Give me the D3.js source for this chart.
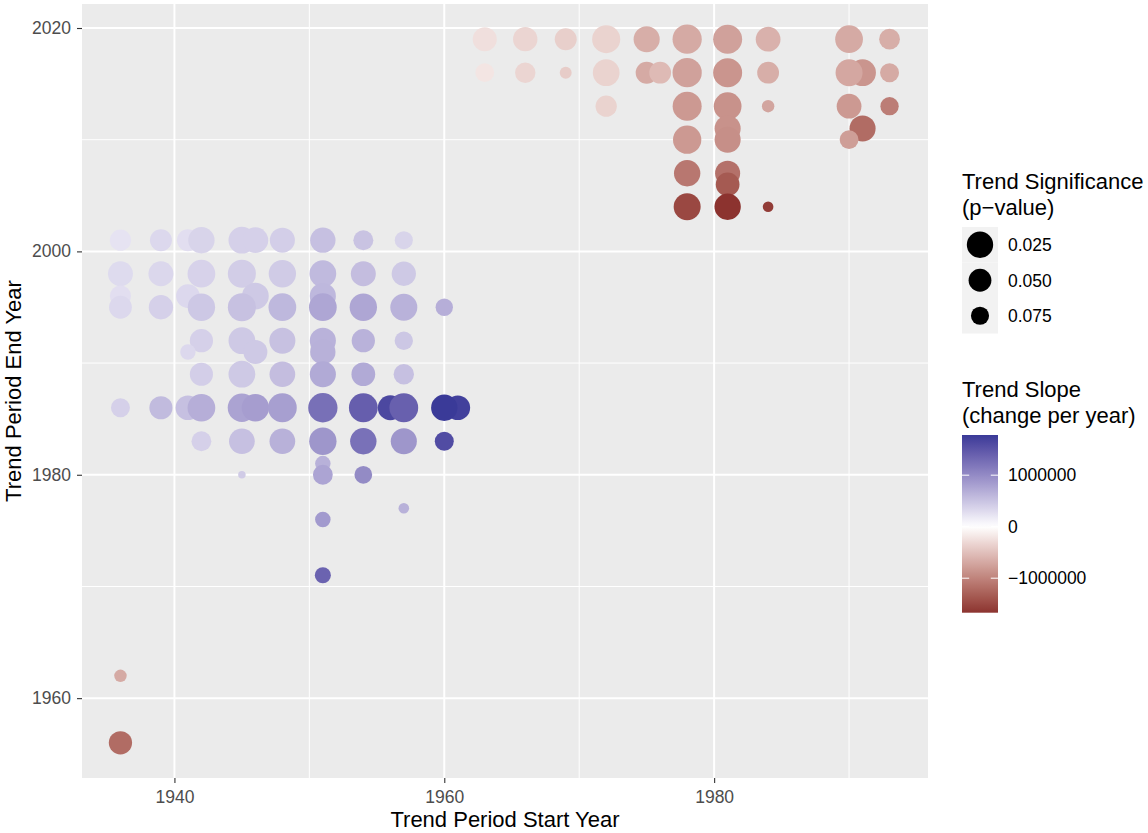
<!DOCTYPE html>
<html>
<head>
<meta charset="utf-8">
<script src="https://cdn.jsdelivr.net/npm/d3@7"></script>
<style>
  body { margin: 0; background: #ffffff; }
  svg { display: block; }
  text { font-family: "Liberation Sans", Arial, Helvetica, sans-serif; }
</style>
</head>
<body>
<svg id="chart" width="1148" height="833"></svg>
<script>
// Trend periods: start year, end year, fitted slope (change per year) and p-value.
// Ordered by end year (descending), then start year, which is also the drawing order.
const startYear = [
  1963, 1966, 1969, 1972, 1975, 1978, 1981, 1984, 1990, 1993,
  1963, 1966, 1969, 1972, 1975, 1976, 1978, 1981, 1984, 1991, 1990, 1993,
  1972, 1978, 1981, 1984, 1990, 1993,
  1981, 1991,
  1978, 1981, 1990,
  1978, 1981,
  1981,
  1978, 1981, 1984,
  1936, 1939, 1941, 1942, 1945, 1946, 1948, 1951, 1954, 1957,
  1936, 1939, 1942, 1945, 1948, 1951, 1954, 1957,
  1936, 1941, 1946, 1951,
  1936, 1939, 1942, 1945, 1948, 1951, 1954, 1957, 1960,
  1942, 1945, 1948, 1951, 1954, 1957,
  1941, 1946, 1951,
  1942, 1945, 1948, 1951, 1954, 1957,
  1936, 1939, 1941, 1942, 1945, 1946, 1948, 1951, 1954, 1956, 1957, 1961, 1960,
  1942, 1945, 1948, 1951, 1954, 1957, 1960,
  1951,
  1945, 1951, 1954,
  1957,
  1951,
  1951,
  1936,
  1936
];
const endYear = [
  2019, 2019, 2019, 2019, 2019, 2019, 2019, 2019, 2019, 2019,
  2016, 2016, 2016, 2016, 2016, 2016, 2016, 2016, 2016, 2016, 2016, 2016,
  2013, 2013, 2013, 2013, 2013, 2013,
  2011, 2011,
  2010, 2010, 2010,
  2007, 2007,
  2006,
  2004, 2004, 2004,
  2001, 2001, 2001, 2001, 2001, 2001, 2001, 2001, 2001, 2001,
  1998, 1998, 1998, 1998, 1998, 1998, 1998, 1998,
  1996, 1996, 1996, 1996,
  1995, 1995, 1995, 1995, 1995, 1995, 1995, 1995, 1995,
  1992, 1992, 1992, 1992, 1992, 1992,
  1991, 1991, 1991,
  1989, 1989, 1989, 1989, 1989, 1989,
  1986, 1986, 1986, 1986, 1986, 1986, 1986, 1986, 1986, 1986, 1986, 1986, 1986,
  1983, 1983, 1983, 1983, 1983, 1983, 1983,
  1981,
  1980, 1980, 1980,
  1977,
  1976,
  1971,
  1962,
  1956
];
const slope = [
  -250000, -330000, -380000, -350000, -650000, -680000, -750000, -620000, -680000, -650000,
  -200000, -330000, -400000, -350000, -680000, -550000, -750000, -850000, -650000, -850000, -700000, -680000,
  -350000, -820000, -880000, -720000, -820000, -1050000,
  -880000, -1200000,
  -820000, -900000, -780000,
  -1100000, -1150000,
  -1350000,
  -1500000, -1670000, -1600000,
  230000, 320000, 270000, 360000, 390000, 390000, 410000, 530000, 500000, 360000,
  300000, 330000, 370000, 420000, 430000, 580000, 550000, 450000,
  270000, 320000, 450000, 600000,
  320000, 390000, 460000, 520000, 600000, 750000, 750000, 650000, 680000,
  390000, 450000, 520000, 650000, 650000, 470000,
  320000, 450000, 660000,
  410000, 450000, 550000, 720000, 720000, 530000,
  390000, 570000, 530000, 680000, 780000, 830000, 820000, 1250000, 1420000, 1640000, 1400000, 1720000, 1780000,
  390000, 530000, 660000, 900000, 1240000, 900000, 1600000,
  660000,
  430000, 770000, 1000000,
  660000,
  860000,
  1370000,
  -680000,
  -1200000
];
const pValue = [
  0.042, 0.040, 0.055, 0.011, 0.027, 0.001, 0.003, 0.037, 0.014, 0.062,
  0.072, 0.064, 0.094, 0.022, 0.055, 0.056, 0.001, 0.003, 0.056, 0.022, 0.020, 0.071,
  0.059, 0.003, 0.014, 0.093, 0.037, 0.074,
  0.027, 0.027,
  0.009, 0.027, 0.072,
  0.025, 0.035,
  0.044,
  0.020, 0.025, 0.096,
  0.059, 0.055, 0.055, 0.025, 0.022, 0.030, 0.035, 0.033, 0.066, 0.075,
  0.035, 0.035, 0.014, 0.011, 0.017, 0.022, 0.035, 0.040,
  0.060, 0.044, 0.022, 0.027,
  0.050, 0.040, 0.017, 0.011, 0.014, 0.014, 0.017, 0.020, 0.078,
  0.047, 0.022, 0.027, 0.027, 0.047, 0.074,
  0.085, 0.042, 0.033,
  0.048, 0.022, 0.030, 0.027, 0.044, 0.064,
  0.071, 0.048, 0.037, 0.014, 0.009, 0.017, 0.005, 0.0005, 0.005, 0.035, 0.005, 0.037, 0.025,
  0.067, 0.030, 0.030, 0.017, 0.025, 0.027, 0.071,
  0.085,
  0.098, 0.067, 0.0765,
  0.096,
  0.085,
  0.083,
  0.093,
  0.047
];

// Axis ticks and legend breaks
const xMajor = [1940, 1960, 1980];
const xMinor = [1950, 1970, 1990];
const yMajor = [1960, 1980, 2000, 2020];
const yMinor = [1970, 1990, 2010];
const sizeBreaks = [0.025, 0.050, 0.075];
const sizeBreakLabels = ["0.025", "0.050", "0.075"];
const colourBreaks = [1000000, 0, -1000000];
const colourBreakLabels = ["1000000", "0", "\u22121000000"];

const data = startYear.map((s, i) => ({
  start: s, end: endYear[i], slope: slope[i], p: pValue[i]
}));

const svg = d3.select("#chart");
const panel = { left: 82, top: 4, right: 928, bottom: 778 };

function expand(ext) {
  const pad = (ext[1] - ext[0]) * 0.05;
  return [ext[0] - pad, ext[1] + pad];
}
const x = d3.scaleLinear().domain(expand(d3.extent(startYear))).range([panel.left, panel.right]);
const y = d3.scaleLinear().domain(expand(d3.extent(endYear))).range([panel.bottom, panel.top]);

// Point size: smaller p-value -> larger point (area scale, reversed)
const pLo = d3.min(pValue), pHi = d3.max(pValue);
const sizeScale = d3.scaleSqrt().domain([0, pHi - pLo]).range([3.75, 14.65]);
const radius = p => sizeScale(pHi - p);

// Diverging colour: red (negative) - white - blue (positive)
const maxAbs = d3.max(slope, v => Math.abs(v));
const colour = d3.scaleLinear()
  .domain([-maxAbs, 0, maxAbs])
  .range(["#832424", "#ffffff", "#3a3a98"])
  .interpolate(d3.interpolateLab);

// Panel background and grid
svg.append("rect")
  .attr("x", panel.left).attr("y", panel.top)
  .attr("width", panel.right - panel.left).attr("height", panel.bottom - panel.top)
  .attr("fill", "#ebebeb");

const grid = svg.append("g");
grid.selectAll(".xminor").data(xMinor).join("line")
  .attr("x1", d => x(d)).attr("x2", d => x(d))
  .attr("y1", panel.top).attr("y2", panel.bottom)
  .attr("stroke", "#ffffff").attr("stroke-width", 1);
grid.selectAll(".yminor").data(yMinor).join("line")
  .attr("y1", d => y(d)).attr("y2", d => y(d))
  .attr("x1", panel.left).attr("x2", panel.right)
  .attr("stroke", "#ffffff").attr("stroke-width", 1);
grid.selectAll(".xmajor").data(xMajor).join("line")
  .attr("x1", d => x(d)).attr("x2", d => x(d))
  .attr("y1", panel.top).attr("y2", panel.bottom)
  .attr("stroke", "#ffffff").attr("stroke-width", 2);
grid.selectAll(".ymajor").data(yMajor).join("line")
  .attr("y1", d => y(d)).attr("y2", d => y(d))
  .attr("x1", panel.left).attr("x2", panel.right)
  .attr("stroke", "#ffffff").attr("stroke-width", 2);

// Points
svg.append("g").selectAll("circle").data(data).join("circle")
  .attr("cx", d => x(d.start))
  .attr("cy", d => y(d.end))
  .attr("r", d => radius(d.p))
  .attr("fill", d => colour(d.slope));

// Axes
function styleAxis(g) {
  g.select(".domain").remove();
  g.selectAll(".tick line").attr("stroke", "#333333").attr("stroke-width", 1.1);
  g.selectAll(".tick text").attr("fill", "#4d4d4d").style("font-size", "17.5px");
}
svg.append("g")
  .attr("transform", `translate(0,${panel.bottom})`)
  .call(d3.axisBottom(x).tickValues(xMajor).tickFormat(d3.format("d")).tickSize(5).tickPadding(7.5))
  .call(styleAxis);
svg.append("g")
  .attr("transform", `translate(${panel.left},0)`)
  .call(d3.axisLeft(y).tickValues(yMajor).tickFormat(d3.format("d")).tickSize(5).tickPadding(6))
  .call(styleAxis);

svg.append("text")
  .attr("x", (panel.left + panel.right) / 2).attr("y", 827)
  .attr("text-anchor", "middle").style("font-size", "22px").attr("fill", "#000")
  .text("Trend Period Start Year");
svg.append("text")
  .attr("transform", `translate(21,${(panel.top + panel.bottom) / 2}) rotate(-90)`)
  .attr("text-anchor", "middle").style("font-size", "22px").attr("fill", "#000")
  .text("Trend Period End Year");

// Size legend
const lg1 = svg.append("g");
lg1.append("text").attr("x", 962).attr("y", 189).style("font-size", "22px").text("Trend Significance");
lg1.append("text").attr("x", 962).attr("y", 215).style("font-size", "22px").text("(p\u2212value)");
const keyTop = 227, keyH = 35.5;
lg1.selectAll("rect").data(sizeBreaks).join("rect")
  .attr("x", 962).attr("y", (d, i) => keyTop + i * keyH)
  .attr("width", 36).attr("height", keyH)
  .attr("fill", "#f2f2f2");
lg1.selectAll("circle").data(sizeBreaks).join("circle")
  .attr("cx", 980).attr("cy", (d, i) => keyTop + i * keyH + keyH / 2)
  .attr("r", d => radius(d)).attr("fill", "#000");
lg1.selectAll(".lab").data(sizeBreakLabels).join("text")
  .attr("x", 1008).attr("y", (d, i) => keyTop + i * keyH + keyH / 2)
  .attr("dy", "0.36em").style("font-size", "17.5px").attr("fill", "#000")
  .text(d => d);

// Colour legend
const lg2 = svg.append("g");
lg2.append("text").attr("x", 962).attr("y", 397).style("font-size", "22px").text("Trend Slope");
lg2.append("text").attr("x", 962).attr("y", 423).style("font-size", "22px").text("(change per year)");
const sExt = d3.extent(slope);
const bar = { x: 962, w: 36, top: 435, bottom: 612.7 };
const barY = d3.scaleLinear().domain(sExt).range([bar.bottom, bar.top]);
const grad = svg.append("defs").append("linearGradient")
  .attr("id", "slopeGrad").attr("x1", 0).attr("y1", 1).attr("x2", 0).attr("y2", 0);
d3.range(0, 1.0001, 0.02).forEach(t => {
  grad.append("stop")
    .attr("offset", t)
    .attr("stop-color", colour(sExt[0] + t * (sExt[1] - sExt[0])));
});
lg2.append("rect")
  .attr("x", bar.x).attr("y", bar.top).attr("width", bar.w).attr("height", bar.bottom - bar.top)
  .attr("fill", "url(#slopeGrad)");
colourBreaks.forEach((v, i) => {
  const yy = barY(v);
  lg2.append("line").attr("x1", bar.x).attr("x2", bar.x + 7.2).attr("y1", yy).attr("y2", yy)
    .attr("stroke", "#ffffff").attr("stroke-width", 1);
  lg2.append("line").attr("x1", bar.x + bar.w - 7.2).attr("x2", bar.x + bar.w).attr("y1", yy).attr("y2", yy)
    .attr("stroke", "#ffffff").attr("stroke-width", 1);
  lg2.append("text").attr("x", 1008).attr("y", yy).attr("dy", "0.36em")
    .style("font-size", "17.5px").attr("fill", "#000").text(colourBreakLabels[i]);
});
</script>
</body>
</html>
